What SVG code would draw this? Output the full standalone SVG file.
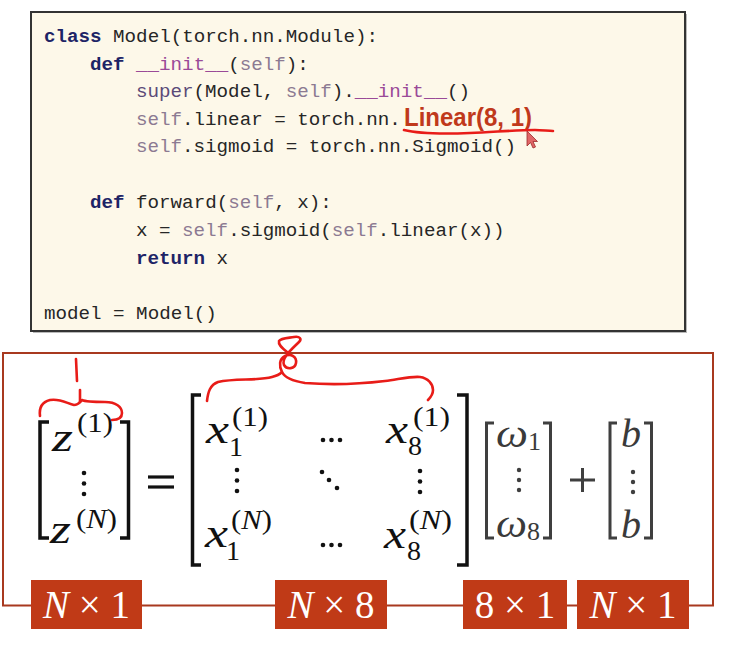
<svg xmlns="http://www.w3.org/2000/svg" width="741" height="655" viewBox="0 0 741 655">
<style>
.code{font-family:"Liberation Mono","DejaVu Sans Mono",monospace;font-size:19.2px;fill:#262626}
.kw{fill:#1d2466;font-weight:bold}
.sf{fill:#8c7a92}
.dn{fill:#9a4a98}
.sp{fill:#5b4a78}
.hl{font-family:"Liberation Sans",Arial,sans-serif;font-weight:bold;font-size:25px;fill:#c0391b}
.mv{font-family:"Liberation Serif","Times New Roman",serif;font-style:italic;font-size:42px;fill:#111}
.ms{font-family:"Liberation Serif","Times New Roman",serif;font-size:28px;fill:#111}
.gv{font-family:"Liberation Serif","Times New Roman",serif;font-style:italic;font-size:40px;fill:#3a3a3a}
.gs{font-family:"Liberation Serif","Times New Roman",serif;font-size:26px;fill:#3a3a3a}
.it{font-style:italic}
.brk{fill:none;stroke:#111;stroke-width:3.5}
.gbrk{fill:none;stroke:#3f3f3f;stroke-width:3}
.dot{fill:#111}
.gdot{fill:#3f3f3f}
.lbl rect{fill:#c03a17}
.lbl text{font-family:"Liberation Serif","Times New Roman",serif;font-size:39px;fill:#fff;text-anchor:middle}
.ink{fill:none;stroke:#e81c18;stroke-width:2.6;stroke-linecap:round;stroke-linejoin:round}
</style>

<g id="code-box">
  <rect x="33" y="14" width="654" height="319" fill="#8a8a8a" opacity="0.6"/>
  <rect x="31" y="12" width="654" height="319" fill="#fdf8e9" stroke="#333" stroke-width="2"/>
  <g class="code" xml:space="preserve">
    <text x="44" y="42"><tspan class="kw">class</tspan> Model(torch.nn.Module):</text>
    <text x="90" y="70"><tspan class="kw">def</tspan> <tspan class="dn">__init__</tspan>(<tspan class="sf">self</tspan>):</text>
    <text x="136" y="97"><tspan class="sp">super</tspan>(Model, <tspan class="sf">self</tspan>).<tspan class="dn">__init__</tspan>()</text>
    <text x="136" y="125"><tspan class="sf">self</tspan>.linear = torch.nn.</text>
    <text x="136" y="152"><tspan class="sf">self</tspan>.sigmoid = torch.nn.Sigmoid()</text>
    <text x="90" y="208"><tspan class="kw">def</tspan> forward(<tspan class="sf">self</tspan>, x):</text>
    <text x="136" y="236">x = <tspan class="sf">self</tspan>.sigmoid(<tspan class="sf">self</tspan>.linear(x))</text>
    <text x="136" y="264"><tspan class="kw">return</tspan> x</text>
    <text x="44" y="319">model = Model()</text>
  </g>
  <text class="hl" x="404" y="126" textLength="128" lengthAdjust="spacingAndGlyphs">Linear(8, 1)</text>
</g>

<g id="connectors">
  <polyline points="31,605.5 3,605.5 3,353 713,353 713,605.5 689,605.5" fill="none" stroke="#a8391f" stroke-width="2"/>
  <line x1="142" y1="605.5" x2="275" y2="605.5" stroke="#a8391f" stroke-width="2"/>
  <line x1="387" y1="605.5" x2="463" y2="605.5" stroke="#a8391f" stroke-width="2"/>
  <line x1="567" y1="605.5" x2="577" y2="605.5" stroke="#a8391f" stroke-width="2"/>
</g>

<g id="label-z" class="lbl">
  <rect x="31" y="580" width="111" height="49"/>
  <text x="86.5" y="618"><tspan class="it">N</tspan> × 1</text>
</g>
<g id="label-x" class="lbl">
  <rect x="275" y="580" width="112" height="49"/>
  <text x="331" y="618"><tspan class="it">N</tspan> × 8</text>
</g>
<g id="label-w" class="lbl">
  <rect x="463" y="580" width="104" height="49"/>
  <text x="515" y="618">8 × 1</text>
</g>
<g id="label-b" class="lbl">
  <rect x="577" y="580" width="112" height="49"/>
  <text x="633" y="618"><tspan class="it">N</tspan> × 1</text>
</g>

<g id="vector-z">
  <path class="brk" d="M49,422 H40 V538 H49"/>
  <path class="brk" d="M120,422 H128.5 V538 H120"/>
  <text class="mv" x="52" y="451" textLength="21" lengthAdjust="spacingAndGlyphs">z</text>
  <text class="ms" x="77" y="432" textLength="36" lengthAdjust="spacingAndGlyphs">(1)</text>
  <circle class="dot" cx="84" cy="473" r="2.3"/>
  <circle class="dot" cx="84" cy="483.5" r="2.3"/>
  <circle class="dot" cx="84" cy="494" r="2.3"/>
  <text class="mv" x="50" y="543" textLength="21" lengthAdjust="spacingAndGlyphs">z</text>
  <text class="ms" x="76" y="528" textLength="41" lengthAdjust="spacingAndGlyphs">(<tspan class="it">N</tspan>)</text>
</g>

<g id="equals">
  <line x1="148" y1="477" x2="174" y2="477" stroke="#111" stroke-width="3.2"/>
  <line x1="148" y1="487" x2="174" y2="487" stroke="#111" stroke-width="3.2"/>
</g>

<g id="matrix-x">
  <path class="brk" d="M201,395 H192.5 V565 H201"/>
  <path class="brk" d="M457,395 H467 V565 H457"/>
  <text class="mv" x="206" y="443" textLength="23" lengthAdjust="spacingAndGlyphs">x</text>
  <text class="ms" x="229" y="456">1</text>
  <text class="ms" x="232" y="426" textLength="36" lengthAdjust="spacingAndGlyphs">(1)</text>
  <circle class="dot" cx="323" cy="440" r="2.3"/>
  <circle class="dot" cx="331.5" cy="440" r="2.3"/>
  <circle class="dot" cx="340" cy="440" r="2.3"/>
  <text class="mv" x="386" y="443" textLength="22" lengthAdjust="spacingAndGlyphs">x</text>
  <text class="ms" x="408" y="455">8</text>
  <text class="ms" x="413" y="426" textLength="37" lengthAdjust="spacingAndGlyphs">(1)</text>
  <circle class="dot" cx="237" cy="470" r="2.3"/>
  <circle class="dot" cx="237" cy="480.5" r="2.3"/>
  <circle class="dot" cx="237" cy="491" r="2.3"/>
  <circle class="dot" cx="322" cy="472" r="2.3"/>
  <circle class="dot" cx="329" cy="480" r="2.3"/>
  <circle class="dot" cx="337" cy="488" r="2.3"/>
  <circle class="dot" cx="420" cy="471" r="2.3"/>
  <circle class="dot" cx="420" cy="481.5" r="2.3"/>
  <circle class="dot" cx="420" cy="492" r="2.3"/>
  <text class="mv" x="205" y="547" textLength="23" lengthAdjust="spacingAndGlyphs">x</text>
  <text class="ms" x="226" y="560">1</text>
  <text class="ms" x="231" y="529" textLength="41" lengthAdjust="spacingAndGlyphs">(<tspan class="it">N</tspan>)</text>
  <circle class="dot" cx="323" cy="545" r="2.3"/>
  <circle class="dot" cx="331.5" cy="545" r="2.3"/>
  <circle class="dot" cx="340" cy="545" r="2.3"/>
  <text class="mv" x="384" y="548" textLength="22" lengthAdjust="spacingAndGlyphs">x</text>
  <text class="ms" x="407" y="560">8</text>
  <text class="ms" x="409" y="529" textLength="43" lengthAdjust="spacingAndGlyphs">(<tspan class="it">N</tspan>)</text>
</g>

<g id="vector-w">
  <path class="gbrk" d="M494,423 H486.5 V538 H494"/>
  <path class="gbrk" d="M543,423 H550.5 V538 H543"/>
  <text class="gv" x="496" y="447" textLength="32" lengthAdjust="spacingAndGlyphs">ω</text>
  <text class="gs" x="528" y="450">1</text>
  <circle class="gdot" cx="519" cy="470" r="2.2"/>
  <circle class="gdot" cx="519" cy="480" r="2.2"/>
  <circle class="gdot" cx="519" cy="490" r="2.2"/>
  <text class="gv" x="496" y="537" textLength="31" lengthAdjust="spacingAndGlyphs">ω</text>
  <text class="gs" x="527" y="540">8</text>
</g>

<g id="plus">
  <line x1="570" y1="480" x2="595" y2="480" stroke="#3f3f3f" stroke-width="3"/>
  <line x1="582.5" y1="468" x2="582.5" y2="492" stroke="#3f3f3f" stroke-width="3"/>
</g>

<g id="vector-b">
  <path class="gbrk" d="M617,423 H610 V538 H617"/>
  <path class="gbrk" d="M644,423 H651.5 V538 H644"/>
  <text class="gv" x="621" y="447" font-size="36">b</text>
  <circle class="gdot" cx="633" cy="472" r="2.2"/>
  <circle class="gdot" cx="633" cy="482" r="2.2"/>
  <circle class="gdot" cx="633" cy="492" r="2.2"/>
  <text class="gv" x="621" y="538" font-size="36">b</text>
</g>

<g id="annotations">
  <path class="ink" d="M404,130 C420,134 445,134 470,133 C495,132 515,130 535,130 C542,130 548,131 553,131"/>
  <path d="M527,131 L527,146 L530.5,142.5 L533,148 L535.5,147 L533,141.5 L537.5,141.5 Z" fill="#e06666" stroke="#9c2a2a" stroke-width="0.8"/>
  <path class="ink" d="M76,359 L77,381"/>
  <path class="ink" d="M80,390 L80,402"/>
  <path class="ink" d="M40,416 C39,408 42,402 50,400 C60,398 68,404 74,405 C78,405 80,402 82,400 C86,402 92,402 105,402 C116,402 122,407 122,413 C122,418 118,420 112,420"/>
  <path class="ink" d="M207,401 C208,392 210,385 218,382 C235,378 258,381 272,377 C276,376 280,374 282,372 C285,378 292,381 305,383 C330,385 360,384 385,381 C400,379 412,376 420,377 C428,378 433,384 433,390 C433,395 430,398 428,400"/>
  <path class="ink" d="M282,372 C279,366 279,359 285,356 C291,353 297,357 296,363 C295,369 287,370 284,365 C281,358 292,349 299,342 C302,339 300,336 294,337 C288,338 281,338 279,341 C278,345 282,348 287,352"/>
</g>
</svg>
